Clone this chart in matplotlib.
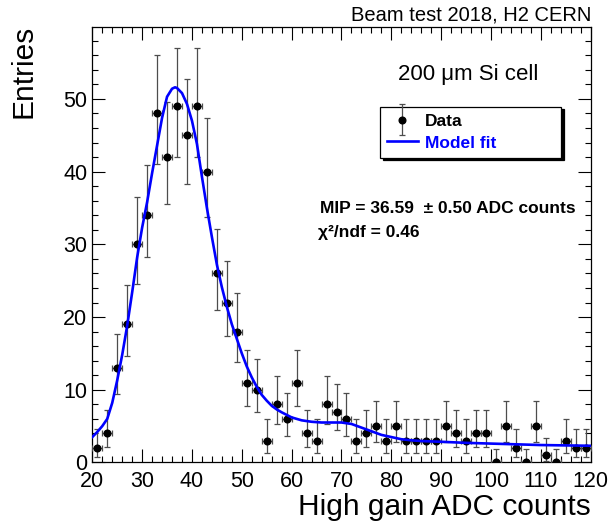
import numpy as np
import matplotlib
matplotlib.use("Agg")
import matplotlib.pyplot as plt
from matplotlib.legend_handler import HandlerErrorbar
from matplotlib.ticker import MultipleLocator

plt.rcParams['font.family'] = ['Liberation Sans', 'DejaVu Sans']

# histogram: bin centres (width 2) and entries
bin_centres = np.arange(21, 120, 2)
entries = [2, 4, 13, 19, 30, 34, 48, 42, 49, 45,
           49, 40, 26, 22, 18, 11, 10, 3, 8, 6,
           11, 4, 3, 8, 7, 6, 3, 4, 5, 3,
           5, 3, 3, 3, 3, 5, 4, 3, 4, 4,
           0, 5, 2, 0, 5, 1, 0, 3, 2, 2]
bin_half_width = 1.0

# fitted model curve
fit_x = [20, 21, 22, 23, 24, 25, 26, 27, 28, 29,
         30, 31, 32, 33, 34, 35, 36, 36.6, 37, 38,
         39, 40, 41, 42, 43, 44, 45, 46, 47, 48,
         49, 50, 51, 52, 53, 54, 55, 56, 57, 58,
         60, 62, 64, 66, 68, 70, 72, 74, 76, 78,
         80, 82, 84, 86, 88, 90, 95, 100, 105, 110,
         115, 120]
fit_y = [3.5, 4.2, 5.0, 6.0, 8.2, 11.3, 14.8, 18.8, 23.4, 28.2,
         32.3, 35.8, 39.8, 43.6, 47.4, 50.3, 51.4, 51.6, 51.5, 50.8,
         49.3, 47.0, 43.8, 39.3, 35.0, 31.0, 27.2, 24.1, 21.4, 19.0,
         17.0, 15.0, 13.2, 11.7, 10.4, 9.3, 8.5, 7.8, 7.3, 6.9,
         6.2, 5.8, 5.6, 5.5, 5.5, 5.5, 5.3, 4.8, 4.3, 3.8,
         3.5, 3.2, 3.05, 2.95, 2.9, 2.85, 2.7, 2.6, 2.5, 2.4,
         2.35, 2.3]

title = "Beam test 2018, H2 CERN"
cell_label = "200 \u03bcm Si cell"
mip_label = "MIP = 36.59  \u00b1 0.50 ADC counts"
chi2_label = "\u03c7\u00b2/ndf = 0.46"

# asymmetric Poisson errors (Gehrels approximation)
n = np.array(entries, dtype=float)
err_up = np.sqrt(n + 0.75) + 1.0
lo = np.where(n > 0, n * (1 - 1 / (9 * np.maximum(n, 1)) - 1 / (3 * np.sqrt(np.maximum(n, 1)))) ** 3, 0.0)
err_lo = n - lo

fig = plt.figure(figsize=(6.12, 5.27), dpi=100)
ax = fig.add_axes([0.1508, 0.1224, 0.8144, 0.8258])

data = ax.errorbar(bin_centres, n, yerr=[err_lo, err_up], xerr=bin_half_width,
                   fmt='o', color='black', ms=4.8, ecolor='0.3', elinewidth=0.9,
                   capsize=2.0, capthick=0.9, label='Data', zorder=3)
fit, = ax.plot(fit_x, fit_y, color='#0000ff', lw=1.9, label='Model fit', zorder=4)

ax.set_xlim(20, 120)
ax.set_ylim(0, 59.85)
ax.xaxis.set_major_locator(MultipleLocator(10))
ax.xaxis.set_minor_locator(MultipleLocator(2))
ax.yaxis.set_major_locator(MultipleLocator(10))
ax.yaxis.set_minor_locator(MultipleLocator(2))
ax.tick_params(which='both', direction='in', top=True, right=True,
               labelsize=15.5, width=0.8)
ax.tick_params(which='major', length=9.5)
ax.tick_params(which='minor', length=4.5)
ax.tick_params(axis='x', pad=6)
ax.tick_params(axis='y', pad=3.5)
for s in ax.spines.values():
    s.set_linewidth(0.9)

ax.set_xlabel("High gain ADC counts", fontsize=21.5, loc='right')
ax.xaxis.set_label_coords(1.0, -0.07)
ax.set_ylabel("Entries", fontsize=21.5, loc='top')
ax.yaxis.set_label_coords(-0.109, 1.005)

fig.text(0.9668, 0.962, title, fontsize=14.5, ha='right', va='baseline')
fig.text(0.650, 0.848, cell_label, fontsize=16, ha='left', va='baseline')
fig.text(0.523, 0.5964, mip_label, fontsize=12.5, fontweight='bold', ha='left', va='baseline')
fig.text(0.5196, 0.5497, chi2_label, fontsize=12.5, fontweight='bold', ha='left', va='baseline')

leg = ax.legend([data, fit], ['Data', 'Model fit'], loc='upper left',
                bbox_to_anchor=(0.577, 0.6967, 0.363, 0.1208), mode='expand',
                borderaxespad=0, prop={'weight': 'bold', 'size': 12.5},
                handlelength=1.8, handletextpad=0.4, borderpad=0.4, labelspacing=0.38,
                fancybox=False, edgecolor='black', framealpha=1,
                shadow={'color': 'black', 'alpha': 1},
                handler_map={type(data): HandlerErrorbar(xerr_size=0.0, yerr_size=0.9)})
leg.get_frame().set_linewidth(0.9)
leg.get_texts()[1].set_color('#0000ff')

fig.savefig("out.png", dpi=100)
